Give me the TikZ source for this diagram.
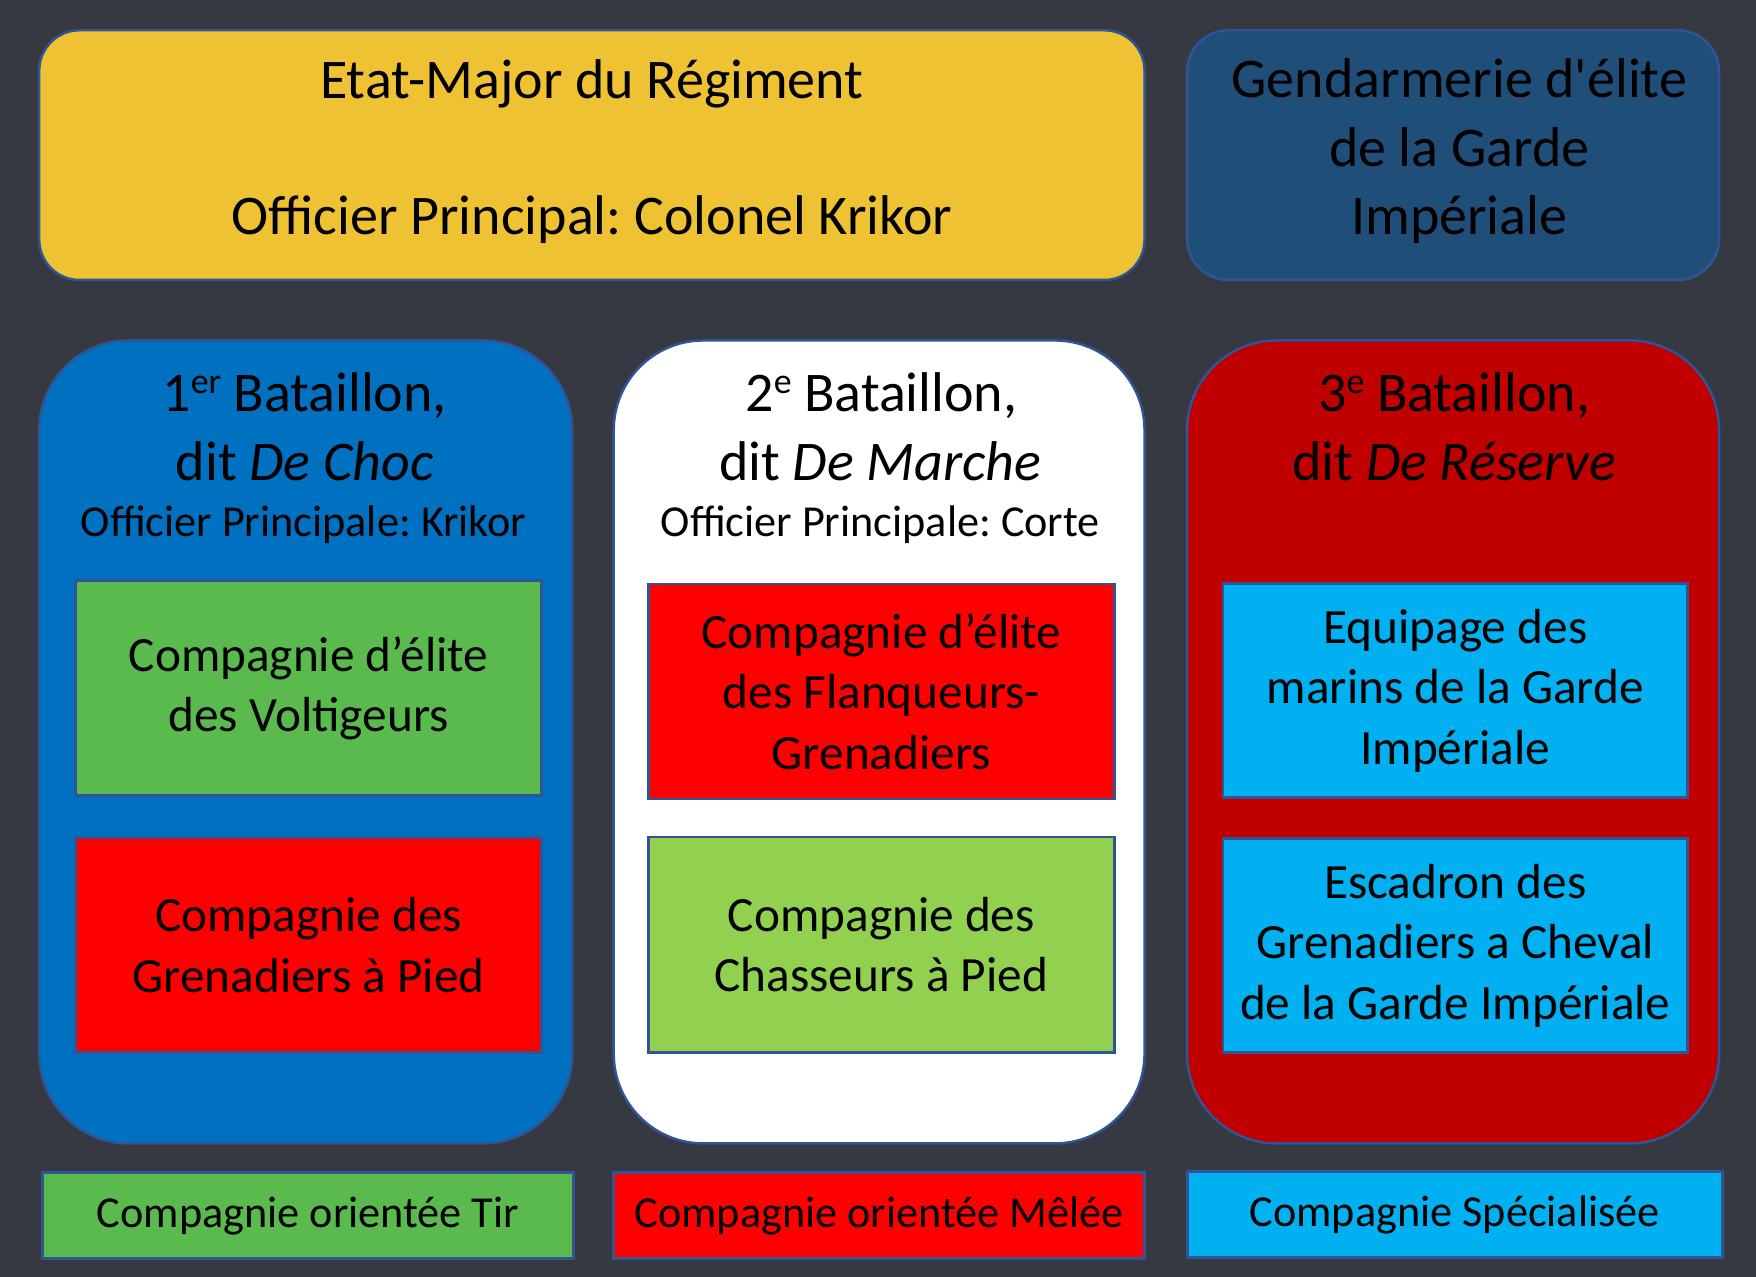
\documentclass[tikz,border=0pt]{standalone}
\usepackage{fontspec}
\setmainfont{Carlito}
\frenchspacing
\definecolor{bgc}{RGB}{54,57,66}
\definecolor{etatc}{RGB}{238,194,51}
\definecolor{gendc}{RGB}{31,78,121}
\definecolor{bat1c}{RGB}{0,112,192}
\definecolor{bat3c}{RGB}{192,0,0}
\definecolor{greenA}{RGB}{91,186,78}
\definecolor{greenB}{RGB}{146,208,80}
\definecolor{redc}{RGB}{255,0,0}
\definecolor{cyanc}{RGB}{0,176,240}
\definecolor{bordc}{RGB}{47,85,151}
\newcommand{\mysup}[1]{\raisebox{16pt}{\fontsize{32}{32}\selectfont #1}}
\begin{document}
\begin{tikzpicture}[x=1pt,y=-1pt,
  bigbox/.style={draw=bordc, line width=2.2pt},
  ttl/.style={anchor=base, inner sep=0pt, font=\fontsize{50}{61}\selectfont\frenchspacing},
  sml/.style={anchor=base, inner sep=0pt, font=\fontsize{39.5}{46}\selectfont\frenchspacing},
  comp/.style={draw=bordc, line width=2.4pt, inner sep=0pt, align=center,
    minimum width=416pt, minimum height=192pt, font=\fontsize{44}{54}\selectfont},
  legend/.style={draw=bordc, line width=2.6pt, inner sep=0pt, align=center,
    minimum width=474pt, minimum height=77pt, font=\fontsize{39.5}{46}\selectfont}]
\fill[bgc] (0,0) rectangle (1568,1140);
\useasboundingbox (0,0) rectangle (1568,1140);

% top boxes
\draw[bigbox, fill=etatc, rounded corners=36pt] (35,27) rectangle (1022,250);
\node[ttl] (etat1) at (528.5,88.4) {Etat-Major du Régiment};
\node[ttl] (etat2) at (528.5,209.8) {Officier Principal: Colonel Krikor};

\draw[bigbox, fill=gendc, rounded corners=37pt] (1060,27) rectangle (1535,250);
\node[ttl] (gend1) at (1303,86.9) {Gendarmerie d\textquotesingle élite};
\node[ttl] (gend2) at (1303,148.8) {de la Garde};
\node[ttl] (gend3) at (1303,209.8) {Impériale};

% battalions
\draw[bigbox, fill=bat1c, rounded corners=80pt] (35,304) rectangle (511,1021);
\draw[bigbox, fill=white, rounded corners=80pt] (548,304) rectangle (1022,1021);
\draw[bigbox, fill=bat3c, rounded corners=80pt] (1060,304) rectangle (1535,1021);

\node[ttl] (b1a) at (272,367.6) {1\mysup{er} Bataillon,};
\node[ttl] (b1b) at (272,429.2) {dit \textit{De Choc}};
\node[sml] (b1c) at (271,479.2) {Officier Principale: Krikor};

\node[ttl] (b2a) at (787,367.6) {2\mysup{e} Bataillon,};
\node[ttl] (b2b) at (786,429.2) {dit \textit{De Marche}};
\node[sml] (b2c) at (786,479.2) {Officier Principale: Corte};

\node[ttl] (b3a) at (1298.5,367.6) {3\mysup{e} Bataillon,};
\node[ttl] (b3b) at (1298.5,429.2) {dit \textit{De Réserve}};

% companies
\node[comp, fill=greenA] (g1) at (275.5,614.5) {Compagnie d’élite\\des Voltigeurs};
\node[comp, fill=redc] (r1) at (275.5,844) {Compagnie des\\Grenadiers à Pied};
\node[comp, fill=redc] (r2) at (787,617.5) {Compagnie d’élite\\des Flanqueurs-\\Grenadiers};
\node[comp, fill=greenB] (g2) at (787,843.5) {Compagnie des\\Chasseurs à Pied};
\node[comp, fill=cyanc, minimum width=415pt, minimum height=191pt] (c1) at (1299.5,616.5) {Equipage des\\marins de la Garde\\Impériale};
\node[comp, fill=cyanc, minimum width=415pt, minimum height=191pt] (c2) at (1299.5,844.5) {Escadron des\\Grenadiers a Cheval\\de la Garde Impériale};

% legend
\node[legend, fill=greenA] (l1) at (275,1085.5) {Compagnie orientée Tir};
\node[legend, fill=redc] (l2) at (785,1085.5) {Compagnie orientée Mêlée};
\node[legend, fill=cyanc, minimum width=478pt] (l3) at (1299,1084.5) {Compagnie Spécialisée};
\end{tikzpicture}
\end{document}
